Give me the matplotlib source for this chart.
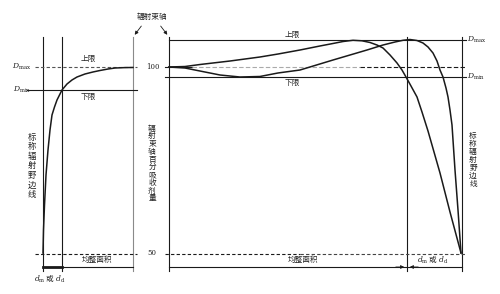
import matplotlib
matplotlib.use("Agg")
import matplotlib.pyplot as plt

plt.rcParams['font.family'] = ['Noto Sans CJK SC', 'DejaVu Sans']
plt.rcParams['mathtext.fontset'] = 'dejavuserif'

# ---- data (x: lateral position, arbitrary units; y: percentage absorbed dose) ----
left_x = [43, 43.5, 44.5, 46, 48, 50, 52, 54.5, 57, 62, 67, 72, 77, 85, 93, 100, 108, 115, 125, 133]
left_y = [50, 56.18, 62.90, 70.97, 77.69, 83.06, 87.10, 89.25, 91.13, 93.82, 95.43, 96.51,
          97.31, 98.12, 98.66, 99.06, 99.46, 99.73, 99.84, 99.87]

curveA_x = [169, 185, 200, 230, 260, 278, 300, 320, 333, 343, 353, 362, 370, 377, 383, 390,
            397, 402, 406, 411, 417, 422, 428, 440, 450, 461]
curveA_y = [100, 100.13, 100.67, 101.61, 102.69, 103.49, 104.57, 105.65, 106.32, 106.85,
            107.18, 107.04, 106.59, 105.91, 105.11, 103.23, 101.08, 99.19, 97.31, 94.89,
            91.94, 87.90, 82.80, 71.51, 61.02, 50]

curveB_x = [169, 185, 200, 220, 240, 260, 278, 300, 333, 367, 383, 395, 403, 410, 417, 423,
            428, 433, 437, 440, 443, 446, 448, 450, 452, 455, 458, 461]
curveB_y = [100, 99.73, 98.92, 97.85, 97.31, 97.45, 98.39, 99.19, 101.88, 104.57, 105.91,
            106.72, 107.18, 107.39, 107.12, 106.45, 105.38, 103.76, 101.61, 99.19, 97.31,
            94.35, 91.94, 88.44, 84.41, 72.31, 61.56, 50]

# reference levels
left_dmax, left_dmin = 99.87, 93.82
right_dmax, right_dmin = 107.26, 97.31
level_100, level_50 = 100, 50
top_level, dim_level = 108.06, 46.24

# field geometry
left_edge, left_flat, left_axis = 43, 62, 133
right_axis, right_flat, right_edge = 169, 407, 462

fig = plt.figure(figsize=(5.0, 2.94), dpi=100)
ax = fig.add_axes([0, 0, 1, 1])
ax.set_xlim(0, 500)
ax.set_ylim(38.98, 118.01)
ax.axis('off')

K = '#1a1a1a'
G = '#8a8a8a'
lw = 0.8

# vertical lines
for x, c in [(left_edge, K), (left_flat, K), (left_axis, G), (right_axis, K),
             (right_flat, K), (right_edge, K)]:
    ax.plot([x, x], [45.2, top_level], color=c, lw=lw)

# left panel horizontals
ax.plot([35, 137], [left_dmax, left_dmax], color='#555555', lw=lw, ls=(0, (3, 2)))
ax.plot([27, 137], [left_dmin, left_dmin], color=K, lw=lw)
ax.plot([35, 137], [49.8, 49.8], color=K, lw=lw, ls=(0, (3, 2)))
ax.plot([left_edge, left_axis], [dim_level, dim_level], color=K, lw=lw)
ax.plot([left_edge, left_flat], [dim_level, dim_level], color=K, lw=2.0)

# right panel horizontals
ax.plot([right_axis, 466], [right_dmax, right_dmax], color=K, lw=lw)
ax.plot([165, 192], [level_100, level_100], color=K, lw=lw)
ax.plot([192, 360], [level_100, level_100], color='#aaaaaa', lw=lw, ls=(0, (4, 2)))
ax.plot([360, 466], [level_100, level_100], color=K, lw=lw, ls=(0, (4, 2)))
ax.plot([165, 466], [right_dmin, right_dmin], color=K, lw=lw)
ax.plot([165, 300], [49.8, 49.8], color=K, lw=lw, ls=(0, (3, 2)))
ax.plot([300, 466], [49.8, 49.8], color='#444444', lw=lw, ls=(0, (3, 2)))
ax.plot([right_axis, right_edge], [dim_level, dim_level], color=K, lw=lw)

# dimension arrows
ax.annotate('', xy=(right_flat, dim_level), xytext=(right_flat - 14, dim_level),
            arrowprops=dict(arrowstyle='-|>', color=K, lw=0.6, mutation_scale=5))
ax.annotate('', xy=(right_flat, dim_level), xytext=(right_flat + 14, dim_level),
            arrowprops=dict(arrowstyle='-|>', color=K, lw=0.6, mutation_scale=5))

# curves
ax.plot(left_x, left_y, color=K, lw=1.1)
ax.plot(curveA_x, curveA_y, color=K, lw=1.1)
ax.plot(curveB_x, curveB_y, color=K, lw=1.1)

# beam axis label + arrows
TC = '#222222'
ax.text(152, 113.44, '辐射束轴', fontsize=5.5, ha='center', va='center', color=TC)
ax.annotate('', xy=(left_axis, top_level), xytext=(143, 111.6),
            arrowprops=dict(arrowstyle='-|>', color=K, lw=0.6, mutation_scale=5))
ax.annotate('', xy=(right_axis, top_level), xytext=(159, 111.6),
            arrowprops=dict(arrowstyle='-|>', color=K, lw=0.6, mutation_scale=5))

# labels
fs = 5.5
ax.text(88, 102.15, '上限', fontsize=fs, ha='center', va='center', color=TC)
ax.text(88, 91.94, '下限', fontsize=fs, ha='center', va='center', color=TC)
ax.text(292, 108.6, '上限', fontsize=fs, ha='center', va='center', color=TC)
ax.text(292, 95.70, '下限', fontsize=fs, ha='center', va='center', color=TC)
ax.text(22, 100.1, r'$D_{\rm max}$', fontsize=5.5, ha='center', va='center', color=TC)
ax.text(22, 93.82, r'$D_{\rm min}$', fontsize=5.5, ha='center', va='center', color=TC)
ax.text(467, 107.26, r'$D_{\rm max}$', fontsize=5.5, ha='left', va='center', color=TC)
ax.text(467, 97.31, r'$D_{\rm min}$', fontsize=5.5, ha='left', va='center', color=TC)
ax.text(153, 100, '100', fontsize=5, ha='center', va='center', color=TC, family='DejaVu Serif')
ax.text(152, 50, '50', fontsize=5, ha='center', va='center', color=TC, family='DejaVu Serif')
ax.text(97, 48.1, '均整面积', fontsize=fs, ha='center', va='center', color=TC)
ax.text(303, 48.0, '均整面积', fontsize=fs, ha='center', va='center', color=TC)
ax.text(50, 43.0, r'$d_{\rm m}$ 或 $d_{\rm d}$', fontsize=5.5, ha='center', va='center', color=TC)
ax.text(433, 48.0, r'$d_{\rm m}$ 或 $d_{\rm d}$', fontsize=5.5, ha='center', va='center', color=TC)

edge_label = '\n'.join('标称辐射野边线')
ax.text(32, 73.4, edge_label, fontsize=6.0, ha='center', va='center', color=TC, linespacing=1.08)
ax.text(473, 75.0, edge_label, fontsize=5.5, ha='center', va='center', color=TC, linespacing=1.0)
ax.text(152, 74.06, '\n'.join('辐射束轴百分吸收剂量'), fontsize=5.5, ha='center', va='center',
        color=TC, linespacing=0.96)

fig.savefig('out.png', dpi=100, facecolor='white')
